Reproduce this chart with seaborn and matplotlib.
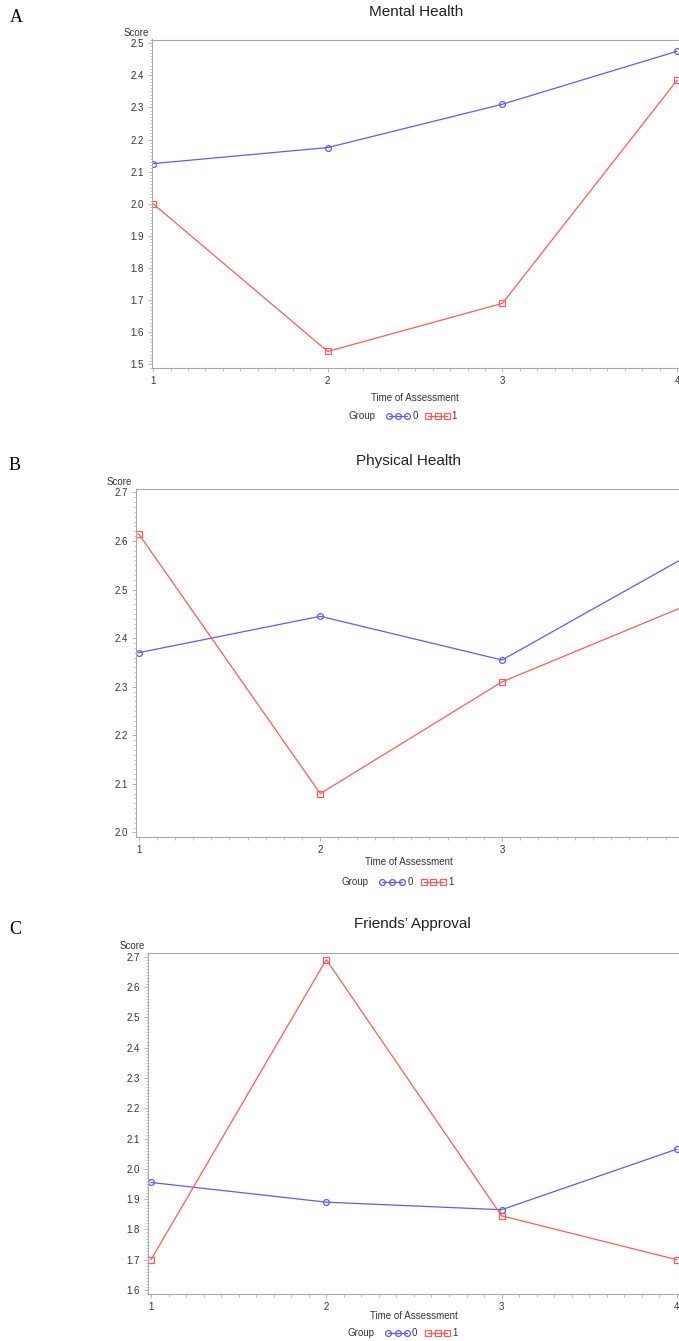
import numpy as np
import pandas as pd
import matplotlib
matplotlib.use("Agg")
import matplotlib.pyplot as plt
import seaborn as sns
from matplotlib.lines import Line2D
from matplotlib.ticker import MultipleLocator, FixedLocator

# ---------------- data ----------------
times = [1, 2, 3, 4]
groups = ["0", "1"]
titles = ["Mental Health", "Physical Health", "Friends\u2019 Approval"]
panel_letters = ["A", "B", "C"]

mental_g0 = [2.125, 2.175, 2.31, 2.475]
mental_g1 = [2.00, 1.54, 1.69, 2.385]
physical_g0 = [2.37, 2.445, 2.355, 2.565]
physical_g1 = [2.615, 2.08, 2.31, 2.465]
friends_g0 = [1.955, 1.89, 1.865, 2.065]
friends_g1 = [1.70, 2.69, 1.845, 1.70]

yticks_A = [1.5, 1.6, 1.7, 1.8, 1.9, 2.0, 2.1, 2.2, 2.3, 2.4, 2.5]
yticks_B = [2.0, 2.1, 2.2, 2.3, 2.4, 2.5, 2.6, 2.7]
yticks_C = [1.6, 1.7, 1.8, 1.9, 2.0, 2.1, 2.2, 2.3, 2.4, 2.5, 2.6, 2.7]
xticks_A = [1, 2, 3, 4]
xticks_B = [1, 2, 3]          # tick 4 lies beyond the cropped right edge
xticks_C = [1, 2, 3, 4]

series = [(mental_g0, mental_g1), (physical_g0, physical_g1), (friends_g0, friends_g1)]
yticks_all = [yticks_A, yticks_B, yticks_C]
xticks_all = [xticks_A, xticks_B, xticks_C]

# ---------------- style ----------------
sns.set_style("white")
plt.rcParams["font.family"] = ["Liberation Sans", "DejaVu Sans"]

W, H = 679, 1341
fig = plt.figure(figsize=(W / 100, H / 100), dpi=100)

BLUE = "#5c5cff"
RED = "#ff5c5c"
palette = {"0": BLUE, "1": RED}
markers = {"0": "o", "1": "s"}
SPINE = "#a8a8a8"
TXT = "#333333"

def fx(px):
    return px / W

def fy(py):
    return 1 - py / H

# pixel layout per panel: axes left/top/bottom, px per x-unit, xlim0, ylim
layout = [
    dict(left=152, top=39.5, bottom=368, ppx=174.7, x0=0.994, ylim=(1.4885, 2.5115),
         title=(416, 12), letter=(16, 17), score=(149, 33), xlab=(415, 398),
         leg=dict(y=416, group=362, b=(389, 407), zero=415, r=(428, 447), one=454)),
    dict(left=136, top=489, bottom=837, ppx=181.75, x0=0.986, ylim=(1.9907, 2.707),
         title=(409, 461), letter=(15, 465), score=(132, 482.5), xlab=(409, 862),
         leg=dict(y=882, group=355, b=(382, 402), zero=410, r=(424, 443), one=451)),
    dict(left=148, top=952.7, bottom=1293.7, ppx=175.3, x0=0.983, ylim=(1.588, 2.713),
         title=(412, 924), letter=(15, 929), score=(145, 946), xlab=(414, 1316),
         leg=dict(y=1333, group=361, b=(388, 407), zero=414, r=(428, 447), one=455)),
]

for i, L in enumerate(layout):
    g0, g1 = series[i]
    df = pd.DataFrame({
        "time": times + times,
        "score": g0 + g1,
        "group": [groups[0]] * len(times) + [groups[1]] * len(times),
    })
    x1 = 4.06
    right_px = L["left"] + (x1 - L["x0"]) * L["ppx"]
    ax = fig.add_axes([fx(L["left"]), fy(L["bottom"]),
                       (right_px - L["left"]) / W, (L["bottom"] - L["top"]) / H])
    sns.lineplot(data=df, x="time", y="score", hue="group", style="group",
                 palette=palette, markers=markers, dashes=False, legend=False,
                 linewidth=0.9, markersize=4.2, ax=ax, clip_on=True)
    for line in ax.lines:
        c = line.get_color()
        line.set_markerfacecolor("none")
        line.set_markeredgecolor(c)
        line.set_markeredgewidth(0.9)

    ax.set_xlim(L["x0"], x1)
    ax.set_ylim(*L["ylim"])
    xt = xticks_all[i]
    ax.xaxis.set_major_locator(FixedLocator(xt))
    ax.xaxis.set_minor_locator(MultipleLocator(0.1))
    ax.yaxis.set_major_locator(FixedLocator(yticks_all[i]))
    ax.yaxis.set_minor_locator(MultipleLocator(0.01))
    ax.set_xticklabels([str(t) for t in xt])
    ax.set_yticklabels([f"{t:.1f}" for t in yticks_all[i]])
    ax.tick_params(axis="both", which="major", direction="out", length=3.2, width=0.6,
                   color=SPINE, labelsize=7, labelcolor=TXT, pad=2.5,
                   bottom=True, left=True)
    ax.tick_params(axis="x", which="minor", direction="out", length=2.2, width=0.5,
                   color=SPINE, bottom=True)
    ax.tick_params(axis="y", which="minor", direction="out", length=1.2, width=0.5,
                   color=SPINE, left=True)
    for s in ["left", "bottom", "top", "right"]:
        ax.spines[s].set_color(SPINE)
        ax.spines[s].set_linewidth(0.8)
    ax.set_xlabel("")
    ax.set_ylabel("")

    # titles and texts
    fig.text(fx(L["title"][0]), fy(L["title"][1]), titles[i], ha="center", va="center",
             fontsize=11, color="#222222")
    fig.text(fx(L["letter"][0]), fy(L["letter"][1]), panel_letters[i], ha="center", va="center",
             fontsize=13, family=["Liberation Serif", "DejaVu Serif"], color="black")
    fig.text(fx(L["score"][0]), fy(L["score"][1]), "Score", ha="right", va="center",
             fontsize=7, color=TXT)
    fig.text(fx(L["xlab"][0]), fy(L["xlab"][1]), "Time of Assessment", ha="center", va="center",
             fontsize=7, color=TXT)

    # legend drawn manually
    lg = L["leg"]
    fig.text(fx(lg["group"]), fy(lg["y"]), "Group", ha="center", va="center", fontsize=7, color=TXT)
    for (a, b), col, mk, lab, lx in [(lg["b"], BLUE, "o", "0", lg["zero"]),
                                     (lg["r"], RED, "s", "1", lg["one"])]:
        xs = np.linspace(a, b, 3)
        fig.add_artist(Line2D([fx(v) for v in xs], [fy(lg["y"])] * 3,
                              transform=fig.transFigure, color=col, lw=0.9,
                              marker=mk, markersize=4.2, markerfacecolor="none",
                              markeredgecolor=col, markeredgewidth=0.9))
        fig.text(fx(lx), fy(lg["y"]), lab, ha="center", va="center", fontsize=7, color=TXT)

fig.savefig("out.png", dpi=100, facecolor="white")
